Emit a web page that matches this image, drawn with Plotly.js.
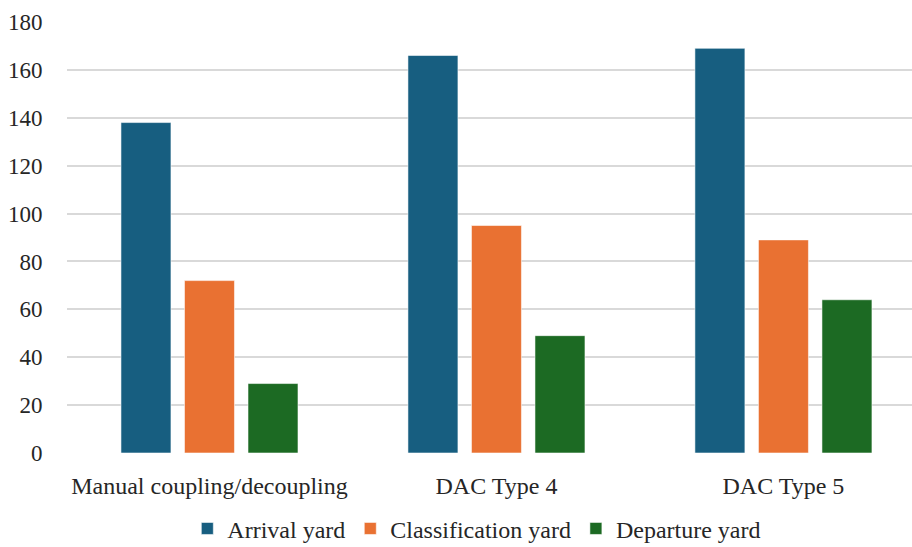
<!DOCTYPE html>
<html>
<head>
<meta charset="utf-8">
<script src="https://cdn.plot.ly/plotly-3.0.1.min.js"></script>
<style>
  html, body { margin: 0; padding: 0; background: #ffffff; }
  #chart { width: 912px; height: 547px; }
</style>
</head>
<body>
<div id="chart"></div>
<script>
// Coupling scenarios on the x axis
const categories = ["Manual coupling/decoupling", "DAC Type 4", "DAC Type 5"];

// Values per yard
const arrivalYard = [138, 166, 169];
const classificationYard = [72, 95, 89];
const departureYard = [29, 49, 64];

const seriesNames = ["Arrival yard", "Classification yard", "Departure yard"];
const yTicks = [0, 20, 40, 60, 80, 100, 120, 140, 160, 180];

const colors = ["#175e80", "#e97132", "#1c6a23"];
const fontFamily = "Liberation Serif, Times New Roman, serif";

const traces = [arrivalYard, classificationYard, departureYard].map((vals, i) => ({
  type: "bar",
  name: seriesNames[i],
  x: categories,
  y: vals,
  marker: {
    color: colors[i],
    line: { color: "rgba(255,255,255,0.55)", width: 1 }
  },
  hoverinfo: "x+y+name"
}));

const layout = {
  width: 912,
  height: 547,
  paper_bgcolor: "#ffffff",
  plot_bgcolor: "#ffffff",
  margin: { l: 67, r: 0, t: 22, b: 94, autoexpand: false },
  barmode: "group",
  bargap: 0.336,
  bargroupgap: 0.213,
  font: { family: fontFamily, size: 23, color: "#262626" },
  xaxis: {
    type: "category",
    range: [-0.4965, 2.448],
    automargin: false,
    showgrid: false,
    zeroline: false,
    showline: false,
    ticks: "outside",
    ticklen: 11,
    tickcolor: "rgba(0,0,0,0)",
    tickangle: 0,
    tickfont: { family: fontFamily, size: 24, color: "#262626" }
  },
  yaxis: {
    range: [0, 180],
    automargin: false,
    tickvals: yTicks,
    ticktext: yTicks.map(String),
    showgrid: true,
    gridcolor: "#d9d9d9",
    gridwidth: 2,
    zeroline: false,
    showline: false,
    ticks: "outside",
    ticklen: 19,
    tickcolor: "rgba(0,0,0,0)",
    tickfont: { family: fontFamily, size: 23, color: "#262626" }
  },
  showlegend: true,
  legend: {
    orientation: "h",
    xref: "paper",
    yref: "paper",
    x: 0.485,
    xanchor: "center",
    y: -0.176,
    yanchor: "middle",
    font: { family: fontFamily, size: 24, color: "#262626" },
    itemwidth: 30,
    traceorder: "normal"
  }
};

Plotly.newPlot("chart", traces, layout, { displayModeBar: false, staticPlot: true });
</script>
</body>
</html>
